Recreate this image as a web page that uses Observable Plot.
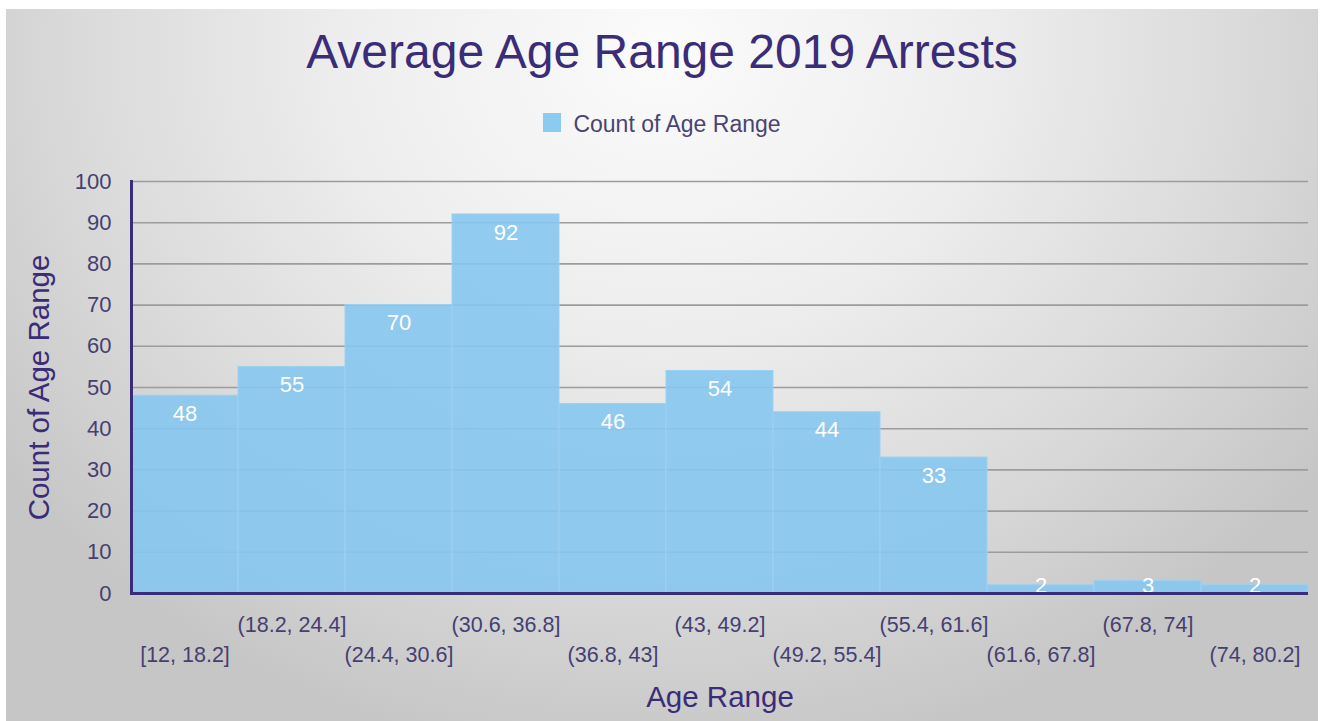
<!DOCTYPE html>
<html>
<head>
<meta charset="utf-8">
<script src="https://cdn.jsdelivr.net/npm/d3@7"></script>
<script src="https://cdn.jsdelivr.net/npm/@observablehq/plot@0.6"></script>
<style>
  html, body { margin: 0; padding: 0; background: #ffffff; }
  body { width: 1324px; height: 721px; overflow: hidden; font-family: "Liberation Sans", Arial, sans-serif; }
  #wrap { width: 1324px; height: 721px; position: relative; }
  #bg {
    position: absolute; left: 6px; top: 9px; right: 6px; bottom: 0; z-index: 0;
    background: radial-gradient(ellipse 62% 100% at 50% 6%, #fbfbfb 0%, #eeeeee 38%, #dadada 72%, #c6c6c6 100%);
  }
  #content { position: relative; z-index: 1; }
  #title { height: 98px; box-sizing: border-box; padding-top: 22px; text-align: center; font-size: 48px; color: #3b2c78; line-height: 60px; }
  #legend { height: 57px; display: flex; justify-content: center; align-items: flex-start; box-sizing: border-box; font-size: 23px; color: #4a4472; }
  #legend .sw { width: 18px; height: 19px; background: #8ccbf0; margin-right: 12px; margin-top: 15px; }
  #legend span { line-height: 52px; }
  #chart svg { display: block; background: transparent; }
</style>
</head>
<body>
<div id="wrap">
  <div id="bg"></div>
  <div id="content">
    <div id="title">Average Age Range 2019 Arrests</div>
    <div id="legend"><div class="sw"></div><span>Count of Age Range</span></div>
    <div id="chart"></div>
  </div>
</div>
<script>
const bins = ["[12, 18.2]", "(18.2, 24.4]", "(24.4, 30.6]", "(30.6, 36.8]", "(36.8, 43]", "(43, 49.2]", "(49.2, 55.4]", "(55.4, 61.6]", "(61.6, 67.8]", "(67.8, 74]", "(74, 80.2]"];
const counts = [48, 55, 70, 92, 46, 54, 44, 33, 2, 3, 2];
const yTicks = [0, 10, 20, 30, 40, 50, 60, 70, 80, 90, 100];
const xTitle = "Age Range";
const yTitle = "Count of Age Range";

const data = bins.map((b, i) => ({bin: b, count: counts[i]}));
const upperRow = bins.filter((b, i) => i % 2 === 1);
const lowerRow = bins.filter((b, i) => i % 2 === 0);

const axisColor = "#3b2c78";
const tickColor = "#463f72";
const barColor = "#86c6ef";

const chart = Plot.plot({
  width: 1324,
  height: 566,
  marginLeft: 131,
  marginRight: 16,
  marginTop: 26,
  marginBottom: 128,
  style: {fontFamily: "Liberation Sans, Arial, sans-serif", background: "transparent", overflow: "visible"},
  x: {domain: bins, padding: 0, axis: null},
  y: {domain: [0, 100], axis: null},
  marks: [
    Plot.ruleY(yTicks.filter(d => d > 0), {stroke: "#9c9c9c", strokeWidth: 1.6}),
    Plot.barY(data, {x: "bin", y: "count", fill: barColor, fillOpacity: 0.9, stroke: "#9dd1f1", strokeWidth: 1}),
    Plot.text(data.filter(d => d.count >= 10), {x: "bin", y: "count", text: d => String(d.count), dy: 18, fill: "white", fontSize: 22}),
    Plot.text(data.filter(d => d.count < 10), {x: "bin", y: 0, text: d => String(d.count), dy: -8, fill: "white", fontSize: 22}),
    Plot.axisY({ticks: yTicks, tickSize: 0, tickPadding: 20, fontSize: 22, color: tickColor, label: null}),
    Plot.axisX({ticks: upperRow, tickSize: 0, tickPadding: 23, fontSize: 21.5, color: tickColor, label: null}),
    Plot.axisX({ticks: lowerRow, tickSize: 0, tickPadding: 53, fontSize: 21.5, color: tickColor, label: null}),
    Plot.ruleY([0], {stroke: axisColor, strokeWidth: 3}),
    Plot.frame({anchor: "left", stroke: axisColor, strokeWidth: 3}),
    Plot.text([xTitle], {frameAnchor: "bottom", dy: 113, fill: axisColor, fontSize: 29.5, textAnchor: "middle"}),
    Plot.text([yTitle], {frameAnchor: "left", dx: -92, rotate: -90, fill: axisColor, fontSize: 29.5, textAnchor: "middle"})
  ]
});
document.getElementById("chart").appendChild(chart);
</script>
</body>
</html>
